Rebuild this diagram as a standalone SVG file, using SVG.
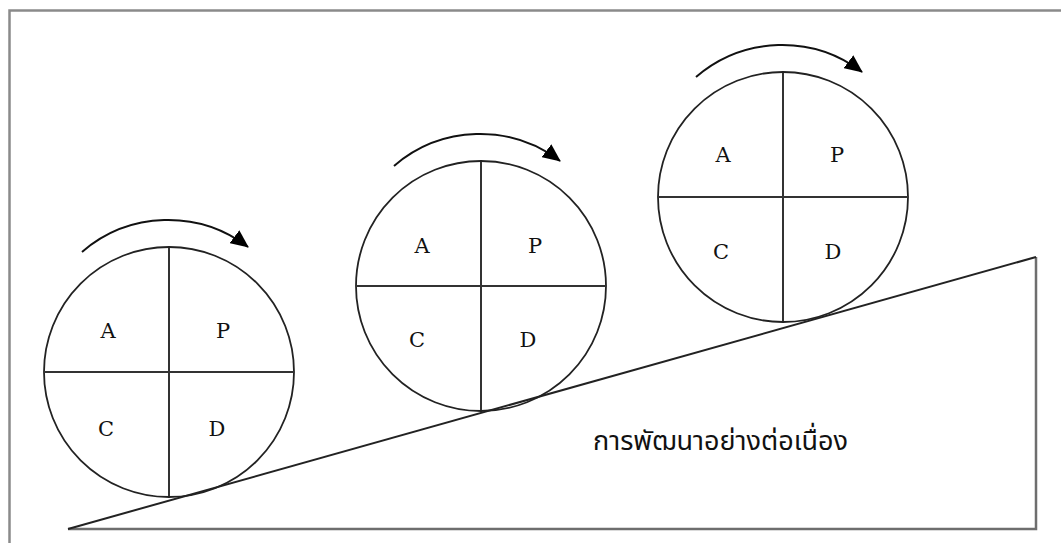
<svg xmlns="http://www.w3.org/2000/svg" width="1061" height="543" viewBox="0 0 1061 543">
<style>
.frame{fill:none;stroke:#8a8a8a;stroke-width:2.5}
.ring{fill:none;stroke:#222;stroke-width:1.8}
.div{stroke:#333;stroke-width:2}
.lbl{font-family:"DejaVu Serif","Liberation Serif",serif;font-size:21px;fill:#111;text-anchor:middle}
.rot{fill:none;stroke:#111;stroke-width:2}
.slope{fill:none;stroke:#222;stroke-width:2}
.base{fill:none;stroke:#6e6e6e;stroke-width:2.5}
.thai{font-family:"Noto Sans Thai","Noto Sans","DejaVu Sans",sans-serif;font-size:27px;fill:#111}
</style>
<defs>
<marker id="head" viewBox="0 0 18 16" refX="17" refY="8" markerWidth="18" markerHeight="16" markerUnits="userSpaceOnUse" orient="auto">
<path d="M0,0 L18,8 L0,16 Z" fill="#000"/>
</marker>
</defs>
<rect width="1061" height="543" fill="#fff"/>
<path class="frame" d="M9.5,543 V10.5 H1061"/>
<g id="slope">
<path class="base" d="M68,529 H1036 V257"/>
<path class="slope" d="M68,529 L1036,257"/>
</g>
<g id="cycle1" transform="translate(169,372)">
<circle class="ring" r="125"/>
<line class="div" x1="0" y1="-124" x2="0" y2="124"/>
<line class="div" x1="-125" y1="0" x2="125" y2="0"/>
<text class="lbl" x="-61" y="-34">A</text>
<text class="lbl" x="54" y="-34">P</text>
<text class="lbl" x="-63" y="64">C</text>
<text class="lbl" x="48" y="64">D</text>
</g>
<g id="cycle2" transform="translate(481,286)">
<circle class="ring" r="125"/>
<line class="div" x1="0" y1="-124" x2="0" y2="124"/>
<line class="div" x1="-125" y1="0" x2="125" y2="0"/>
<text class="lbl" x="-59" y="-33">A</text>
<text class="lbl" x="54" y="-33">P</text>
<text class="lbl" x="-64" y="61">C</text>
<text class="lbl" x="47" y="61">D</text>
</g>
<g id="cycle3" transform="translate(783,197)">
<circle class="ring" r="125"/>
<line class="div" x1="0" y1="-124" x2="0" y2="124"/>
<line class="div" x1="-125" y1="0" x2="125" y2="0"/>
<text class="lbl" x="-60" y="-35">A</text>
<text class="lbl" x="54" y="-35">P</text>
<text class="lbl" x="-62" y="62">C</text>
<text class="lbl" x="50" y="62">D</text>
</g>
<g id="connectors">
<path class="rot" transform="translate(169,372)" d="M-87,-120 A132,132 0 0 1 79,-125" marker-end="url(#head)"/>
<path class="rot" transform="translate(481,286)" d="M-87,-120 A132,132 0 0 1 79,-125" marker-end="url(#head)"/>
<path class="rot" transform="translate(783,197)" d="M-87,-120 A132,132 0 0 1 79,-125" marker-end="url(#head)"/>
</g>
<g id="caption">
<text class="thai" x="593" y="450">การพัฒนาอย่างต่อเนื่อง</text>
</g>
</svg>
